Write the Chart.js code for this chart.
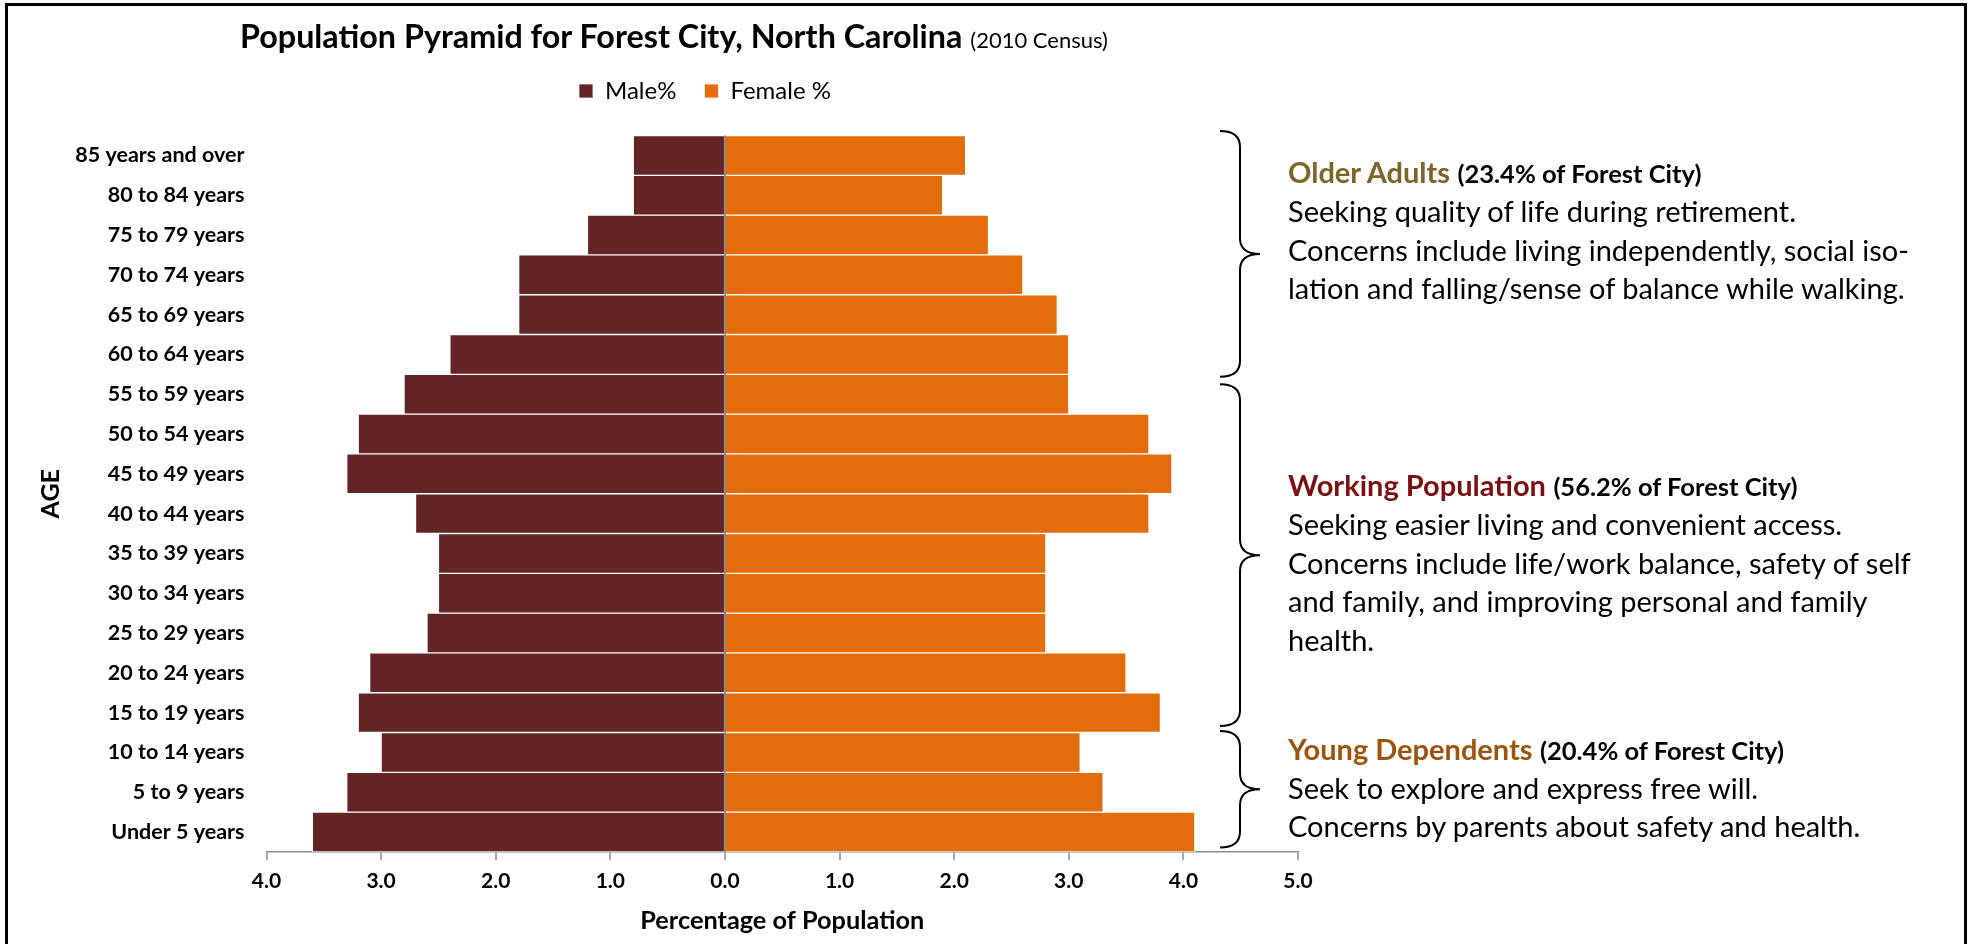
<!DOCTYPE html>
<html>
<head>
<meta charset="utf-8">
<title>Population Pyramid - Forest City, NC</title>
<script src="https://cdn.jsdelivr.net/npm/chart.js@4.4.1/dist/chart.umd.min.js"></script>
<style>
  html, body { margin: 0; padding: 0; background: #fff; overflow: hidden; }
  body { width: 1973px; height: 944px; position: relative; font-family: Lato, sans-serif; color: #000; }
  #frame { position: absolute; left: 5px; top: 3px; width: 1962px; height: 1000px; border: 3px solid #000; box-sizing: border-box; }
  #pyramid { position: absolute; left: 0; top: 0; }
  .headline { position: absolute; left: 240px; top: 16px; line-height: 40px; font-weight: bold; font-size: 32.3px; white-space: nowrap; }
  .headline span { font-weight: normal; font-size: 22px; }
  .note { position: absolute; left: 1288px; font-size: 29px; line-height: 38.4px; white-space: nowrap; }
  .note b { font-size: 29px; }
  .note .share { font-weight: bold; font-size: 25.5px; }
</style>
</head>
<body>
<div id="frame"></div>
<canvas id="pyramid" width="1973" height="944"></canvas>

<div class="headline">Population Pyramid for Forest City, North Carolina <span>(2010 Census)</span></div>

<div class="note" style="top:153px">
  <div><b style="color:#7f6428">Older Adults</b> <span class="share">(23.4% of Forest City)</span></div>
  <div>Seeking quality of life during retirement.</div>
  <div>Concerns include living independently, social iso-</div>
  <div>lation and falling/sense of balance while walking.</div>
</div>

<div class="note" style="top:466px">
  <div><b style="color:#7b1010">Working Population</b> <span class="share">(56.2% of Forest City)</span></div>
  <div>Seeking easier living and convenient access.</div>
  <div>Concerns include life/work balance, safety of self</div>
  <div>and family, and improving personal and family</div>
  <div>health.</div>
</div>

<div class="note" style="top:729.5px">
  <div><b style="color:#9c540c">Young Dependents</b> <span class="share">(20.4% of Forest City)</span></div>
  <div>Seek to explore and express free will.</div>
  <div>Concerns by parents about safety and health.</div>
</div>

<script>
// age brackets, youngest first (axis is reversed so 85+ sits on top)
const ageGroups = [
  "Under 5 years", "5 to 9 years", "10 to 14 years", "15 to 19 years",
  "20 to 24 years", "25 to 29 years", "30 to 34 years", "35 to 39 years",
  "40 to 44 years", "45 to 49 years", "50 to 54 years", "55 to 59 years",
  "60 to 64 years", "65 to 69 years", "70 to 74 years", "75 to 79 years",
  "80 to 84 years", "85 years and over",
];

// share of total population, percent
const malePct = [3.6, 3.3, 3.0, 3.2, 3.1, 2.6, 2.5, 2.5, 2.7, 3.3, 3.2, 2.8, 2.4, 1.8, 1.8, 1.2, 0.8, 0.8];
const femalePct = [4.1, 3.3, 3.1, 3.8, 3.5, 2.8, 2.8, 2.8, 3.7, 3.9, 3.7, 3.0, 3.0, 2.9, 2.6, 2.3, 1.9, 2.1];

// x axis runs from 4 (male side) to 5 (female side)
const axisMin = -4;
const axisMax = 5;

// brackets grouped by the side notes: [first index, last index]
const lifeStages = [
  [0, 2],   // young dependents
  [3, 11],  // working population
  [12, 17], // older adults
];

// hand placement of each bracket: [top inset, bottom inset] in px
const braceTrim = [
  [-1.5, 4.5],
  [10, 6.5],
  [-4.5, -2.5],
];

Chart.defaults.font.family = "Lato";
Chart.defaults.color = "#000";

const axisGrey = "#8c8c8c";

// curly brace pointing right, from top to bottom
function drawBrace(ctx, xEnd, xStem, xTip, top, bottom) {
  const mid = (top + bottom) / 2;
  const r = 16;
  ctx.beginPath();
  ctx.moveTo(xEnd, top);
  ctx.quadraticCurveTo(xStem, top, xStem, top + r);
  ctx.lineTo(xStem, mid - r);
  ctx.quadraticCurveTo(xStem, mid, xTip, mid);
  ctx.quadraticCurveTo(xStem, mid, xStem, mid + r);
  ctx.lineTo(xStem, bottom - r);
  ctx.quadraticCurveTo(xStem, bottom, xEnd, bottom);
  ctx.stroke();
}

const stageBraces = {
  id: "stageBraces",
  afterDraw(chart) {
    const { ctx } = chart;
    const yScale = chart.scales.y;
    const step = Math.abs(yScale.getPixelForValue(1) - yScale.getPixelForValue(0));
    ctx.save();
    ctx.strokeStyle = "#000";
    ctx.lineWidth = 2;
    lifeStages.forEach(([first, last], i) => {
      const a = yScale.getPixelForValue(first);
      const b = yScale.getPixelForValue(last);
      const top = Math.min(a, b) - step / 2 + braceTrim[i][0];
      const bottom = Math.max(a, b) + step / 2 - braceTrim[i][1];
      drawBrace(ctx, 1220, 1240, 1260, top, bottom);
    });
    ctx.restore();
  },
};

// the legend sits a bit right of centre and higher than the layout puts it
const legendNudge = {
  id: "legendNudge",
  afterLayout(chart) {
    const legend = chart.legend;
    legend.left += 41;
    legend.right += 41;
    legend.top -= 22.5;
    legend.bottom -= 22.5;
  },
};

const ctx = document.getElementById("pyramid");

new Chart(ctx, {
  type: "bar",
  data: {
    labels: ageGroups,
    datasets: [
      {
        label: "Male%",
        data: malePct.map((v) => -v),
        backgroundColor: "#632425",
        borderColor: "rgba(255, 255, 255, 0.75)",
        borderWidth: 1,
        barPercentage: 1,
        categoryPercentage: 1,
      },
      {
        label: "Female %",
        data: femalePct,
        backgroundColor: "#e46c0a",
        borderColor: "rgba(255, 255, 255, 0.75)",
        borderWidth: 1,
        barPercentage: 1,
        categoryPercentage: 1,
      },
    ],
  },
  options: {
    indexAxis: "y",
    responsive: false,
    animation: false,
    events: [],
    layout: {
      padding: { top: 73.5, left: 30, right: 675, bottom: 3.7 },
    },
    plugins: {
      legend: {
        position: "top",
        labels: {
          boxWidth: 14,
          boxHeight: 14,
          padding: 28,
          font: { size: 24 },
        },
      },
      tooltip: { enabled: false },
    },
    scales: {
      x: {
        min: axisMin,
        max: axisMax,
        stacked: true,
        z: 1,
        ticks: {
          stepSize: 1,
          padding: 9,
          font: { size: 21, weight: "bold" },
          callback: (value) => Math.abs(value).toFixed(1),
        },
        grid: {
          color: (c) => (c.tick && c.tick.value === 0 ? axisGrey : "transparent"),
          lineWidth: 2,
          tickColor: axisGrey,
          tickWidth: 1.5,
          tickLength: 8,
        },
        border: { color: axisGrey, width: 1.5 },
        title: {
          display: true,
          text: "Percentage of Population",
          font: { size: 25.3, weight: "bold" },
          padding: { top: 2.8, bottom: 4 },
        },
      },
      y: {
        stacked: true,
        reverse: true,
        grid: { display: false, drawTicks: false },
        border: { display: false },
        ticks: {
          padding: 22,
          font: { size: 21.5, weight: "bold" },
        },
        title: {
          display: true,
          text: "AGE",
          font: { size: 25, weight: "bold" },
          padding: { top: 6, bottom: 0 },
        },
        afterFit(scale) {
          scale.width = 236.5;
        },
      },
    },
  },
  plugins: [legendNudge, stageBraces],
});
</script>
</body>
</html>
